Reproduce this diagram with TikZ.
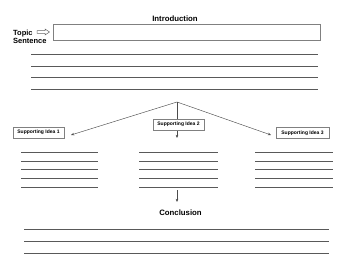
\documentclass[tikz,border=0pt]{standalone}
\usepackage{fontspec}
\setmainfont{Liberation Sans}
\usetikzlibrary{arrows.meta}
\begin{document}
\begin{tikzpicture}[x=1pt,y=-1pt,
  rule/.style={draw=black!65,line width=0.7pt},
  conn/.style={draw=black!70,line width=0.45pt,-{Stealth[length=3.2pt,width=2.6pt]}},
  idea/.style={draw=black!50,fill=white,line width=0.5pt,inner sep=0pt,minimum height=11pt,font=\bfseries\fontsize{5}{6}\selectfont},
  head/.style={font=\bfseries\fontsize{7.8}{9}\selectfont,inner sep=0pt}]
\useasboundingbox (0,0) rectangle (350,270);
% title
\node[head] (intro) at (175,19) {Introduction};
\node[draw=black!50,line width=0.6pt,minimum width=267pt,minimum height=16pt,inner sep=0pt] (topicbox) at (186.5,32) {};
\node[font=\bfseries\fontsize{7.5}{8.2}\selectfont,align=left,inner sep=0pt,anchor=north west] (topic) at (13,29.5) {Topic\\Sentence};
% hollow arrow
\draw[black!60,line width=0.5pt,fill=white] (37,30.6) -- (45,30.6) -- (45,29) -- (49.5,32) -- (45,35) -- (45,33.4) -- (37,33.4) -- cycle;
% intro lines
\foreach \y in {54,66,77,89} \draw[rule] (31,\y) -- (318,\y);
% connectors
\coordinate (apex) at (177,102);
\coordinate (e1) at (71,135);
\coordinate (e2) at (177,138);
\coordinate (e3) at (271,135);
\draw[conn] (apex) -- (e1);
\draw[conn] (apex) -- (e2);
\draw[conn] (apex) -- (e3);
% idea boxes
\node[idea,minimum width=51pt] (s1) at (38.5,132.5) {Supporting Idea 1};
\node[idea,minimum width=51pt] (s2) at (178.5,124.5) {Supporting Idea 2};
\node[idea,minimum width=53pt] (s3) at (302.5,133) {Supporting Idea 3};
% idea lines
\foreach \y in {152,161,169,178,187} {
  \draw[rule] (21,\y) -- (98,\y);
  \draw[rule] (139,\y) -- (218,\y);
  \draw[rule] (255,\y) -- (333,\y);
}
% conclusion
\node[head] (concl) at (180.5,213) {Conclusion};
\coordinate (c0) at (177,190);
\coordinate (c1) at (177,202);
\draw[conn] (c0) -- (c1);
\foreach \y in {229,241,253} \draw[rule] (24,\y) -- (329,\y);
\end{tikzpicture}
\end{document}
